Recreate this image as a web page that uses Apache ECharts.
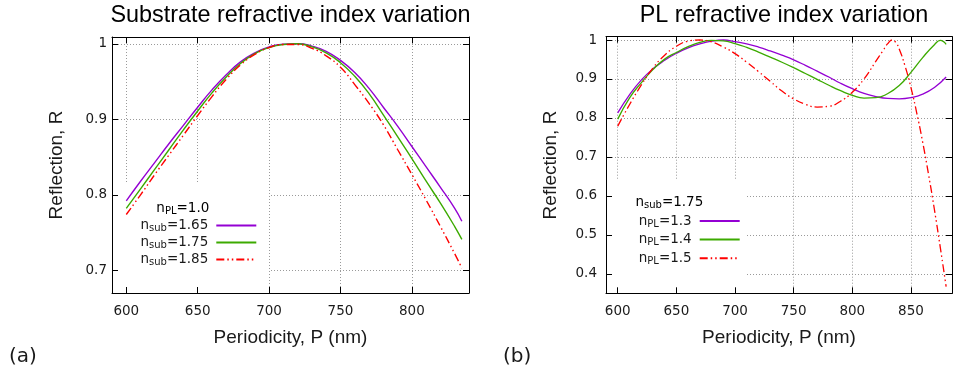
<!DOCTYPE html>
<html><head><meta charset="utf-8">
<script src="https://cdn.jsdelivr.net/npm/echarts@6/dist/echarts.min.js"></script>
<style>html,body{margin:0;padding:0;background:#fff}#c{width:955px;height:373px}</style>
</head><body><div id="c"></div>
<script>
// ---- Data ----
const leftX = [600,610,620,630,640,650,660,670,680,690,700,710,720,730,740,750,760,770,780,790,800,810,820,830,835];
const leftSub165 = [.792,.818,.843,.868,.892,.916,.939,.959,.976,.988,.996,.9995,1.0,.997,.990,.978,.962,.941,.916,.891,.864,.837,.810,.782,.765];
const leftSub175 = [.782,.808,.834,.860,.886,.911,.935,.956,.974,.987,.995,.999,1.0,.996,.988,.975,.957,.934,.906,.877,.848,.818,.789,.758,.741];
const leftSub185 = [.774,.800,.827,.853,.879,.905,.930,.953,.972,.986,.995,.999,.999,.994,.984,.969,.946,.921,.893,.860,.827,.793,.758,.722,.703];

const rightXPL13 = [600,610,620,630,640,650,660,670,680,690,700,710,720,730,740,750,760,770,780,790,800,810,820,830,840,850,860,870,880];
const rightPL13  = [.813,.859,.897,.926,.948,.966,.980,.990,.997,1.0,.996,.990,.982,.972,.961,.949,.935,.920,.905,.889,.875,.863,.855,.850,.849,.852,.861,.878,.905];
const rightXPL14 = [600,610,620,630,640,650,660,670,680,690,700,710,720,730,740,750,760,770,780,790,800,810,820,830,840,850,860,870,875,880];
const rightPL14  = [.797,.851,.890,.924,.951,.968,.983,.994,.999,.998,.991,.981,.969,.956,.943,.929,.914,.899,.884,.870,.858,.851,.852,.862,.883,.917,.955,.988,.999,.989];
const rightXPL15 = [600,610,620,630,640,650,660,670,680,690,700,710,720,730,740,750,760,770,780,790,800,810,820,826,830,834,837,840,845,850,855,860,865,870,875,880];
const rightPL15  = [.779,.834,.884,.928,.961,.984,.997,1.0,.995,.982,.965,.943,.919,.894,.869,.849,.835,.828,.830,.843,.866,.900,.945,.972,.990,1.0,.994,.977,.933,.878,.812,.738,.655,.565,.468,.367];

const leftNames = ['nsub=1.65','nsub=1.75','nsub=1.85'];
const leftLabels = [['n','sub','=1.65'],['n','sub','=1.75'],['n','sub','=1.85']];
const rightNames = ['nPL=1.3','nPL=1.4','nPL=1.5'];
const rightLabels = [['n','PL','=1.3'],['n','PL','=1.4'],['n','PL','=1.5']];
const leftHeader = ['n','PL','=1.0'];
const rightHeader = ['n','sub','=1.75'];
const titles = ['Substrate refractive index variation','PL refractive index variation'];
const xName = 'Periodicity, P (nm)';
const yName = 'Reflection, R';

// ---- Styling ----
const FONT = 'DejaVu Sans';
const SANS = 'Liberation Sans';
const TXT = '#1a1a1a';
const PURPLE = '#9400d3', GREEN = '#3caa00', RED = '#ff0000';
const DASH = [8,3,1.5,3,1.5,3];
const rich = {
  n: {fontFamily: FONT, fontSize: 13.5, lineHeight: 16, color: TXT},
  s: {fontFamily: FONT, fontSize: 10, lineHeight: 9, verticalAlign: 'bottom', color: TXT}
};
const richStr = p => `{n|${p[0]}}{s|${p[1]}}{n|${p[2]}}`;
const pairs = (xs, ys) => xs.map((x, i) => [x, ys[i]]);
const xFmt = v => (Math.abs(v % 50) < 1e-6 ? String(v) : '');
const yFmt = v => (Math.abs(v * 10 - Math.round(v * 10)) < 1e-6 ? String(parseFloat(v.toFixed(2))) : '');

function axisPair(kind, gi, min, max, split, opts) {
  const main = {
    gridIndex: gi, type: 'value', min, max, splitNumber: split, z: 5,
    position: kind === 'x' ? 'bottom' : 'left',
    axisLine: {show: true, onZero: false, lineStyle: {color: '#000', width: 1}},
    axisTick: {show: true, inside: true, length: 6, lineStyle: {color: '#000'}},
    axisLabel: {show: true, margin: opts.margin, fontFamily: FONT, fontSize: 13.5, color: TXT,
                formatter: kind === 'x' ? xFmt : yFmt},
    splitLine: {show: false},
    name: kind === 'x' ? xName : yName, nameLocation: 'middle', nameGap: opts.nameGap,
    nameRotate: kind === 'x' ? 0 : 90,
    nameTextStyle: {fontFamily: SANS, fontSize: 19, color: TXT}
  };
  const mirror = {
    gridIndex: gi, type: 'value', min, max, splitNumber: split, z: 0,
    position: kind === 'x' ? 'top' : 'right',
    axisLine: {show: true, onZero: false, lineStyle: {color: '#000', width: 1}},
    axisTick: {show: true, inside: true, length: 6, lineStyle: {color: '#000'}},
    axisLabel: {show: false},
    splitLine: {show: true, lineStyle: {type: [1, 2], color: '#9a9a9a', width: 1}}
  };
  return [main, mirror];
}

const xAxis = [
  ...axisPair('x', 0, 590, 840, 5, {margin: 11, nameGap: 35}),
  ...axisPair('x', 1, 590, 885, 6, {margin: 11, nameGap: 35})
];
const yAxis = [
  ...axisPair('y', 0, 0.67, 1.009, 4, {margin: 5, nameGap: 46}),
  ...axisPair('y', 1, 0.35, 1.0085, 7, {margin: 9, nameGap: 46})
];

function lineSeries(name, xi, yi, data, color, width, dashed) {
  return {
    name, type: 'line', xAxisIndex: xi, yAxisIndex: yi, data,
    symbol: 'none', showSymbol: false, smooth: 0.5, z: 2,
    lineStyle: {color, width, type: dashed ? DASH : 'solid'},
    itemStyle: {color}
  };
}

const series = [
  lineSeries(leftNames[0], 0, 0, pairs(leftX, leftSub165), PURPLE, 1.4, false),
  lineSeries(leftNames[1], 0, 0, pairs(leftX, leftSub175), GREEN, 1.4, false),
  lineSeries(leftNames[2], 0, 0, pairs(leftX, leftSub185), RED, 1.4, true),
  lineSeries(rightNames[0], 2, 2, pairs(rightXPL13, rightPL13), PURPLE, 1.3, false),
  lineSeries(rightNames[1], 2, 2, pairs(rightXPL14, rightPL14), GREEN, 1.3, false),
  lineSeries(rightNames[2], 2, 2, pairs(rightXPL15, rightPL15), RED, 1.3, true)
];

function legendFor(names, labels, right, top, gap, pad) {
  return {
    data: names, orient: 'vertical', right, top, align: 'right',
    itemWidth: 40, itemHeight: 14, itemGap: gap, padding: pad,
    backgroundColor: '#fff', z: 1, selectedMode: false,
    itemStyle: {opacity: 0},
    formatter: name => richStr(labels[names.indexOf(name)]),
    textStyle: {rich, padding: [0, 3, 0, 0]}
  };
}

const option = {
  animation: false,
  backgroundColor: '#fff',
  title: [
    {text: titles[0], left: 290.5, top: 4, textAlign: 'center', padding: 0,
     textStyle: {fontFamily: SANS, fontSize: 23.4, fontWeight: 'normal', color: '#000'}},
    {text: titles[1], left: 784, top: 4, textAlign: 'center', padding: 0,
     textStyle: {fontFamily: SANS, fontSize: 23.4, fontWeight: 'normal', color: '#000'}}
  ],
  grid: [
    {left: 112, top: 37, width: 357, height: 256, containLabel: false},
    {left: 606, top: 36.7, width: 352, height: 256.6, containLabel: false}
  ],
  xAxis, yAxis, series,
  legend: [
    legendFor(leftNames, leftLabels, 686, 182, 2.0, [36.5, 11.7, 30, 70]),
    legendFor(rightNames, rightLabels, 208, 180, 3.6, [34, 6.3, 30, 70])
  ],
  graphic: [
    {type: 'text', z: 10, x: 209.3, y: 208.5,
     style: {text: richStr(leftHeader), rich, align: 'right', verticalAlign: 'middle'}},
    {type: 'text', z: 10, x: 703.3, y: 202,
     style: {text: richStr(rightHeader), rich, align: 'right', verticalAlign: 'middle'}},
    {type: 'text', z: 10, x: 9, y: 357,
     style: {text: '(a)', fontFamily: FONT, fontSize: 20, fill: TXT, align: 'left', verticalAlign: 'middle'}},
    {type: 'text', z: 10, x: 503, y: 357,
     style: {text: '(b)', fontFamily: FONT, fontSize: 20, fill: TXT, align: 'left', verticalAlign: 'middle'}}
  ]
};

const chart = echarts.init(document.getElementById('c'), null, {renderer: 'canvas'});
chart.setOption(option);
</script>
</body></html>
